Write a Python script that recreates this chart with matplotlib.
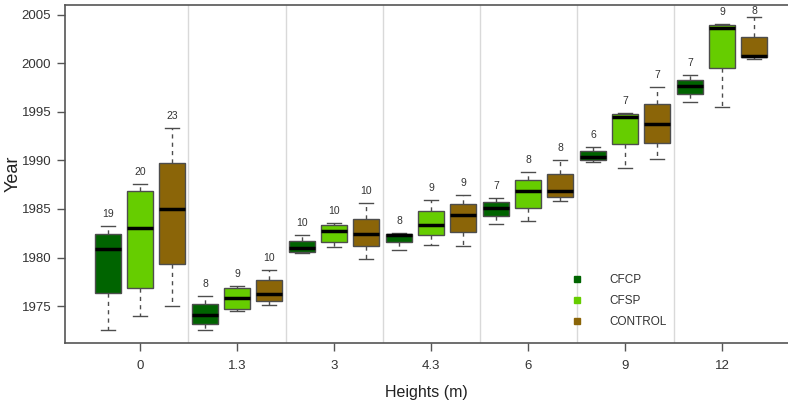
import numpy as np
import matplotlib
matplotlib.use("Agg")
import matplotlib.pyplot as plt
from matplotlib.lines import Line2D

plt.rcParams['font.family'] = ['Liberation Sans', 'DejaVu Sans']

heights = ["0", "1.3", "3", "4.3", "6", "9", "12"]
treatments = ["CFCP", "CFSP", "CONTROL"]
colors = ["#006400", "#66CD00", "#8B6508"]

# five-number summaries per treatment, one entry per height
cfcp_low = [1972.5, 1972.5, 1980.45, 1980.8, 1983.5, 1989.8, 1996.0]
cfcp_q1 = [1976.4, 1973.2, 1980.6, 1981.55, 1984.25, 1990.0, 1996.8]
cfcp_med = [1980.9, 1974.1, 1981.0, 1982.3, 1985.15, 1990.3, 1997.7]
cfcp_q3 = [1982.45, 1975.2, 1981.75, 1982.45, 1985.75, 1990.95, 1998.3]
cfcp_high = [1983.25, 1976.05, 1982.3, 1982.55, 1986.1, 1991.4, 1998.75]
cfcp_n = [19, 8, 10, 8, 7, 6, 7]

cfsp_low = [1974.0, 1974.5, 1981.05, 1981.3, 1983.8, 1989.25, 1995.5]
cfsp_q1 = [1976.9, 1974.75, 1981.6, 1982.3, 1985.15, 1991.65, 1999.5]
cfsp_med = [1983.05, 1975.85, 1982.75, 1983.35, 1986.85, 1994.45, 2003.65]
cfsp_q3 = [1986.9, 1976.9, 1983.4, 1984.75, 1988.0, 1994.8, 2003.95]
cfsp_high = [1987.55, 1977.1, 1983.55, 1985.95, 1988.8, 1994.9, 2004.05]
cfsp_n = [20, 9, 10, 9, 8, 7, 9]

ctrl_low = [1975.0, 1975.1, 1979.85, 1981.15, 1985.8, 1990.1, 2000.45]
ctrl_q1 = [1979.35, 1975.5, 1981.15, 1982.6, 1986.25, 1991.8, 2000.6]
ctrl_med = [1985.0, 1976.25, 1982.45, 1984.4, 1986.9, 1993.75, 2000.7]
ctrl_q3 = [1989.75, 1977.7, 1984.0, 1985.55, 1988.6, 1995.8, 2002.75]
ctrl_high = [1993.35, 1978.75, 1985.6, 1986.4, 1990.0, 1997.55, 2004.75]
ctrl_n = [23, 10, 10, 9, 8, 7, 8]

series = [
    (cfcp_low, cfcp_q1, cfcp_med, cfcp_q3, cfcp_high, cfcp_n),
    (cfsp_low, cfsp_q1, cfsp_med, cfsp_q3, cfsp_high, cfsp_n),
    (ctrl_low, ctrl_q1, ctrl_med, ctrl_q3, ctrl_high, ctrl_n),
]

fig = plt.figure(figsize=(7.88, 4.01), dpi=100)
ax = fig.add_axes([0.0825, 0.1446, 0.9175, 0.843])

pos = np.arange(len(heights))
offsets = [-0.33, 0.0, 0.33]
box_w = 0.27
edge = "#4d4d4d"
label_gap = 1.25   # years above the upper whisker
label_top = 2005.4  # keep the counts inside the frame

# light separators between height groups
for x in pos[:-1] + 0.5:
    ax.axvline(x, color="#d9d9d9", lw=1, zorder=0)

for (low, q1, med, q3, high, n), off, col in zip(series, offsets, colors):
    stats = []
    for i in range(len(heights)):
        stats.append(dict(whislo=low[i], q1=q1[i], med=med[i], q3=q3[i], whishi=high[i], fliers=[]))
    ax.bxp(stats, positions=pos + off, widths=box_w, patch_artist=True, manage_ticks=False,
           boxprops=dict(facecolor=col, edgecolor=edge, lw=1),
           medianprops=dict(color="black", lw=2.5),
           whiskerprops=dict(color=edge, lw=1, ls=(0, (3, 3))),
           capprops=dict(color=edge, lw=1),
           capwidths=box_w * 0.5)
    for i in range(len(heights)):
        ax.text(pos[i] + off, min(high[i] + label_gap, label_top), str(n[i]),
                ha="center", va="center", fontsize=7.5, color="#333333")

ax.set_xlim(-0.773, 6.68)
ax.set_ylim(1971.2, 2006.0)
ax.set_xticks(pos)
ax.set_xticklabels(heights)
ax.set_yticks([1975, 1980, 1985, 1990, 1995, 2000, 2005])

for side in ["left", "bottom", "top"]:
    ax.spines[side].set_color("#555555")
    ax.spines[side].set_linewidth(1.2)
ax.spines["right"].set_visible(False)
ax.tick_params(axis="both", colors="#555555", labelcolor="#333333", labelsize=9.5, length=6, width=1)
ax.tick_params(axis="x", pad=6)
ax.tick_params(axis="y", pad=4)

ax.set_ylabel("Year", fontsize=13, color="#222222")
ax.yaxis.set_label_coords(-0.0595, 0.5)
ax.set_xlabel("Heights (m)", fontsize=11.5, color="#222222")
ax.xaxis.set_label_coords(0.5, -0.124)

handles = [Line2D([], [], marker="s", ls="none", color=c, markersize=4.5) for c in colors]
ax.legend(handles, treatments, loc="upper left", bbox_to_anchor=(0.677, 0.235), frameon=False,
          fontsize=8.5, handletextpad=1.75, labelspacing=0.75, labelcolor="#333333")

fig.savefig("out.png", dpi=100)
